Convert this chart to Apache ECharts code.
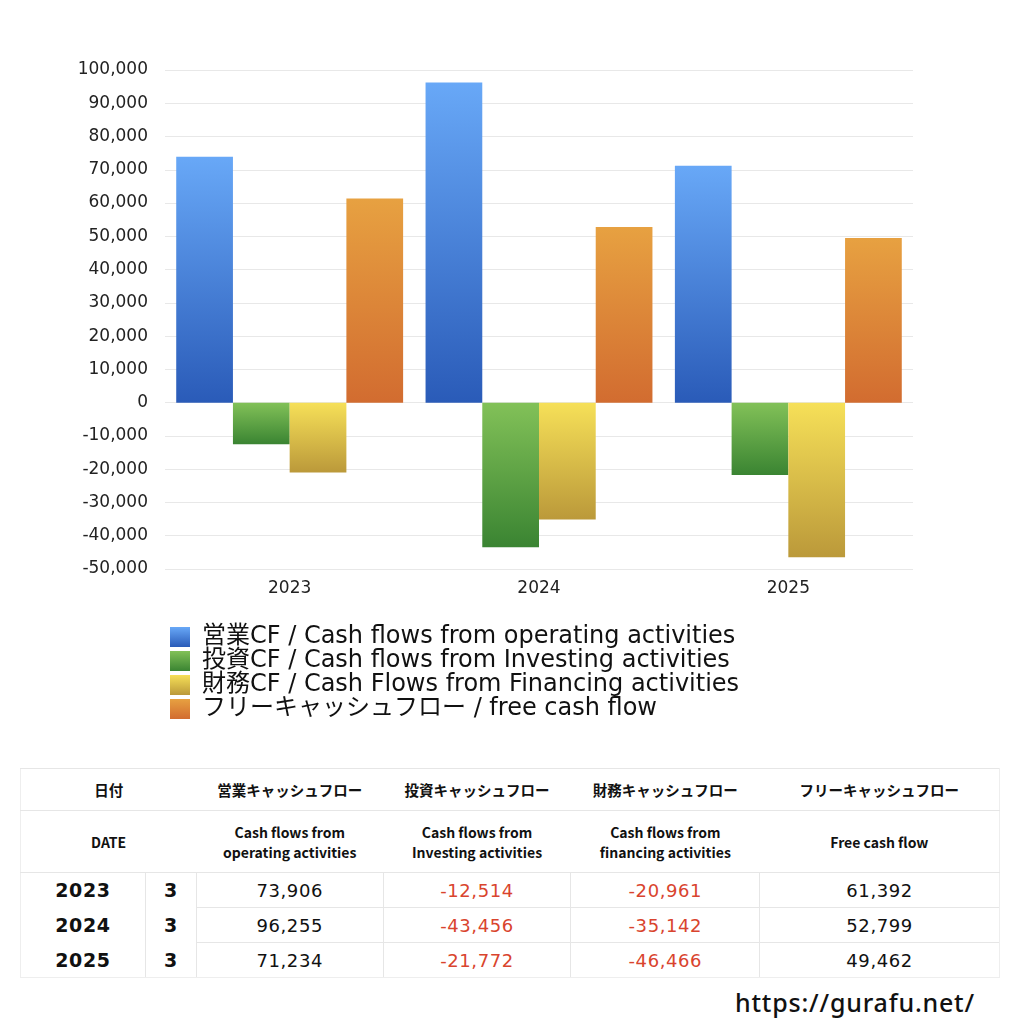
<!DOCTYPE html>
<html>
<head>
<meta charset="utf-8">
<title>キャッシュフロー</title>
<script src="https://cdn.jsdelivr.net/npm/echarts@6/dist/echarts.min.js"></script>
<style>
    body { margin:0; background:#fff; font-family:"Noto Sans CJK JP","Noto Sans",sans-serif; }
    #main { position:absolute; left:0; top:0; width:1024px; height:745px; }
    #tbl { position:absolute; left:20px; top:768px; width:980px; border-collapse:collapse; color:#111; }
    #tbl td { padding:0; text-align:center; }
    #tbl tr.h1 td { height:41px; font-size:14.5px; font-weight:bold; border-top:1px solid #e6e6e6; border-bottom:1px solid #e6e6e6; }
    #tbl tr.h2 td { height:61px; font-size:14px; font-weight:bold; line-height:20px; border-bottom:1px solid #e6e6e6; }
    #tbl tr.d td { height:34px; font-size:18px; font-family:"DejaVu Sans",sans-serif; letter-spacing:0.6px; border-left:1px solid #e6e6e6; border-top:1px solid #e6e6e6; }
    #tbl tr.d td.y { font-weight:bold; font-size:19px; border-left:none; border-top:none; }
    #tbl tr.d td.m { font-weight:bold; font-size:19px; border-top:none; }
    #tbl tr.d td.last { border-right:1px solid #eee; }
    #tbl tr.d:last-child td { border-bottom:1px solid #eee; }
    #tbl .neg { color:#d9442e; }
    #tbl tr.h1 td:first-child, #tbl tr.h2 td:first-child, #tbl tr.d td.y { border-left:1px solid #eee; }
    #tbl tr.h1 td:last-child, #tbl tr.h2 td:last-child { border-right:1px solid #eee; }
    #url { position:absolute; left:735px; top:985px; font-size:25px; letter-spacing:0.8px; font-family:"Noto Sans",sans-serif; font-weight:500; color:#111; }
</style>
</head>
<body>
<div id="main"></div>
<table id="tbl"></table>
<div id="url">https://gurafu.net/</div>
<script type="text/javascript">
    // 決算年（3月期）
    var years = ['2023', '2024', '2025'];
    var month = '3';
    var operating = [73906, 96255, 71234];
    var investing = [-12514, -43456, -21772];
    var financing = [-20961, -35142, -46466];
    var freeCF = [61392, 52799, 49462];

    var seriesNames = [
        '営業CF / Cash flows from operating activities',
        '投資CF / Cash flows from Investing activities',
        '財務CF / Cash Flows from Financing activities',
        'フリーキャッシュフロー / free cash flow'
    ];
    var headJa = ['営業キャッシュフロー', '投資キャッシュフロー', '財務キャッシュフロー', 'フリーキャッシュフロー'];
    var headEn = ['Cash flows from<br>operating activities', 'Cash flows from<br>Investing activities', 'Cash flows from<br>financing activities', 'Free cash flow'];

    function grad(top, bottom) {
        return new echarts.graphic.LinearGradient(0, 0, 0, 1, [
            {offset: 0, color: top},
            {offset: 1, color: bottom}
        ]);
    }
    var colors = [
        grad('#68a8f7', '#2a5bb8'),
        grad('#82c158', '#3a8432'),
        grad('#f6e058', '#bb993a'),
        grad('#e7a141', '#d26c30')
    ];
    var values = [operating, investing, financing, freeCF];

    var chart = echarts.init(document.getElementById('main'));
    var series = [];
    for (var i = 0; i < 4; i++) {
        series.push({
            name: seriesNames[i],
            type: 'bar',
            data: values[i],
            barGap: '0%',
            barCategoryGap: '9%',
            itemStyle: {color: colors[i]}
        });
    }
    option = {
        animation: false,
        textStyle: {fontFamily: '"DejaVu Sans","Noto Sans CJK JP",sans-serif'},
        grid: {left: 165, right: 111, top: 70, height: 499},
        legend: {
            orient: 'vertical',
            left: 165,
            top: 620,
            icon: 'rect',
            itemWidth: 20,
            itemHeight: 20,
            itemGap: 0,
            selectedMode: false,
            textStyle: {fontSize: 24, color: '#111', padding: [0, 0, 0, 7], lineHeight: 22,
                        fontFamily: '"DejaVu Sans","Noto Sans CJK JP",sans-serif'},
            data: seriesNames
        },
        xAxis: {
            type: 'category',
            data: years,
            axisLine: {show: false},
            axisTick: {show: false},
            axisLabel: {fontSize: 17, color: '#222', margin: 11}
        },
        yAxis: {
            type: 'value',
            min: -50000,
            max: 100000,
            interval: 10000,
            axisLine: {show: false},
            axisTick: {show: false},
            splitLine: {lineStyle: {color: '#e8e8e8'}},
            axisLabel: {
                fontSize: 17, color: '#222', margin: 17,
                formatter: function (v) { return v.toLocaleString('en-US'); }
            }
        },
        series: series
    };
    chart.setOption(option);

    // 表
    function fmt(v) {
        var s = v.toLocaleString('en-US');
        return v < 0 ? '<span class="neg">' + s + '</span>' : s;
    }
    var html = '<colgroup><col style="width:125px"><col style="width:51px"><col style="width:187px"><col style="width:188px"><col style="width:189px"><col style="width:240px"></colgroup>';
    html += '<tr class="h1"><td colspan="2">日付</td>';
    for (var j = 0; j < 4; j++) html += '<td>' + headJa[j] + '</td>';
    html += '</tr><tr class="h2"><td colspan="2">DATE</td>';
    for (var j = 0; j < 4; j++) html += '<td>' + headEn[j] + '</td>';
    html += '</tr>';
    for (var k = 0; k < years.length; k++) {
        html += '<tr class="d"><td class="y">' + years[k] + '</td><td class="m">' + month + '</td>';
        for (var j = 0; j < 4; j++) {
            html += '<td' + (j == 3 ? ' class="last"' : '') + (k == 0 ? ' style="border-top:none"' : '') + '>' + fmt(values[j][k]) + '</td>';
        }
        html += '</tr>';
    }
    document.getElementById('tbl').innerHTML = html;
</script>
</body>
</html>
